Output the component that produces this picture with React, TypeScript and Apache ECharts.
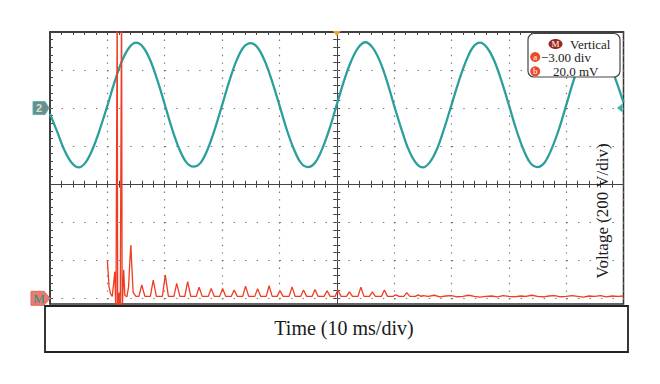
import { useEffect, useRef } from "react";
import * as echarts from "echarts";

// ---- screen scales ----
const TIME_MIN = -50; // ms
const TIME_MAX = 50; // ms
const TIME_DIV = 10; // ms per division
const DIV_MIN = -3.15; // vertical screen range, divisions
const DIV_MAX = 4;

// ---- channel 2 (line voltage), screen divisions, one sample each 1.25 ms from -50 ms ----
const ch2StartMs = -50;
const ch2StepMs = 1.25;
const ch2Div = [
  1.85, 1.38, 0.9, 0.57, 0.44, 0.58, 0.95, 1.47, 2.06, 2.68, 3.22, 3.58, 3.72, 3.6, 3.25, 2.72,
  2.1, 1.47, 0.94, 0.58, 0.46, 0.56, 0.92, 1.45, 2.07, 2.7, 3.24, 3.6, 3.71, 3.58, 3.22, 2.69,
  2.08, 1.45, 0.93, 0.56, 0.45, 0.57, 0.94, 1.46, 2.09, 2.71, 3.23, 3.59, 3.73, 3.59, 3.24, 2.71,
  2.07, 1.46, 0.92, 0.57, 0.44, 0.58, 0.93, 1.47, 2.08, 2.69, 3.22, 3.6, 3.72, 3.58, 3.23, 2.7,
  2.09, 1.46, 0.93, 0.56, 0.45, 0.57, 0.94, 1.45, 2.07, 2.7, 3.24, 3.59, 3.71, 3.6, 3.22, 2.7,
  2.15,
];

// ---- math channel M, screen divisions ----
const mathTransientMs = [
  -40.0, -39.7, -39.45, -39.15, -38.9, -38.7, -38.5, -38.28, -38.2, -37.95, -37.75, -37.52,
  -37.42, -37.15, -36.95, -36.6, -36.3, -36.05, -35.9, -35.75, -35.5, -35.0,
];
const mathTransientDiv = [
  -2.0, -2.7, -2.88, -2.95, -2.6, -2.3, -3.4, 5.0, -3.4, -2.85, -3.4, 5.0,
  -3.4, -2.25, -2.92, -2.96, -2.7, -1.95, -1.6, -2.1, -2.85, -2.95,
];
const mathPeakMs = [
  -34.0, -32.0, -29.9, -27.9, -26.0, -24.0, -21.9, -19.9, -17.9, -15.9, -13.8, -11.8, -9.9,
  -7.8, -5.8, -3.8, -1.7, 0.2, 2.2, 4.2, 6.2, 8.3, 10.3, 12.2, 14.2,
];
const mathPeakDiv = [
  -2.65, -2.52, -2.39, -2.61, -2.56, -2.71, -2.74, -2.74, -2.78, -2.68, -2.75, -2.67, -2.8,
  -2.7, -2.78, -2.77, -2.8, -2.78, -2.83, -2.71, -2.83, -2.78, -2.91, -2.85, -2.91,
];
const mathBaseDiv = -2.95;
const mathTailMs = [
  15, 16, 17, 18, 19, 20, 21, 22, 23, 24, 25, 26, 27, 28, 29, 30, 31, 32, 33, 34, 35, 36, 37,
  38, 39, 40, 41, 42, 43, 44, 45, 46, 47, 48, 49, 50,
];
const mathTailDiv = [
  -2.93, -2.95, -2.92, -2.96, -2.94, -2.93, -2.96, -2.95, -2.92, -2.95, -2.97, -2.95, -2.94,
  -2.96, -2.93, -2.95, -2.96, -2.94, -2.95, -2.92, -2.95, -2.96, -2.94, -2.93, -2.96, -2.95,
  -2.93, -2.95, -2.97, -2.94, -2.95, -2.93, -2.96, -2.94, -2.95, -2.94,
];

const gridLineDiv = [-3, -2, -1, 1, 2, 3];
const ch2OffsetDiv = 2;
const mathOffsetDiv = -3;

const legendTitle = "Vertical";
const legendA = "\u22123.00 div";
const legendB = "20.0 mV";
const xTitle = "Time (10 ms/div)";
const yTitle = "Voltage (200 V/div)";

const SERIF = '"Liberation Serif", "DejaVu Serif", serif';

export default function App() {
  const ref = useRef<HTMLDivElement>(null);

  useEffect(() => {
    if (!ref.current) return;
    const chart = echarts.init(ref.current, undefined, { renderer: "svg" });

    const yTicks: number[] = [];
    for (let k = -15; k <= 20; k++) yTicks.push(Math.round(k * 0.2 * 100) / 100);

    const ch2Data = ch2Div.map((v, i) => [ch2StartMs + i * ch2StepMs, v]);
    const mathData: number[][] = [];
    mathTransientMs.forEach((t, i) => mathData.push([t, mathTransientDiv[i]]));
    mathPeakMs.forEach((t, i) => {
      mathData.push([t - 0.5, mathBaseDiv]);
      mathData.push([t, mathPeakDiv[i]]);
      mathData.push([t + 0.55, mathBaseDiv]);
    });
    mathTailMs.forEach((t, i) => mathData.push([t, mathTailDiv[i]]));

    const tickColor = "#444";
    const baseX = {
      type: "value" as const,
      min: TIME_MIN,
      max: TIME_MAX,
      interval: TIME_DIV,
      axisLabel: { show: false },
    };
    const baseY = {
      type: "value" as const,
      min: DIV_MIN,
      max: DIV_MAX,
      axisLabel: { show: false },
      splitLine: { show: false },
    };

    chart.setOption({
      animation: false,
      backgroundColor: "#ffffff",
      grid: {
        left: 50,
        right: 36.5,
        top: 32,
        bottom: 80,
        show: true,
        borderColor: "#333",
        borderWidth: 1.5,
        backgroundColor: "transparent",
      },
      xAxis: [
        {
          ...baseX,
          position: "top",
          axisLine: { show: true, onZero: false, lineStyle: { color: "#333", width: 1.5 } },
          axisTick: { show: true, inside: true, length: 3, lineStyle: { color: tickColor } },
          minorTick: { show: true, splitNumber: 5, length: 3, lineStyle: { color: tickColor } },
          splitLine: { show: true, lineStyle: { color: "#777", width: 1.2, type: [1.4, 6.2] } },
        },
        {
          ...baseX,
          position: "bottom",
          axisLine: { show: true, onZero: true, onZeroAxisIndex: 0, lineStyle: { color: "#444", width: 1 } },
          axisTick: { show: true, inside: true, length: 3.5, lineStyle: { color: tickColor } },
          minorTick: { show: true, splitNumber: 5, length: 3.5, lineStyle: { color: tickColor } },
          splitLine: { show: false },
        },
        {
          ...baseX,
          position: "bottom",
          axisLine: { show: false, onZero: true, onZeroAxisIndex: 0 },
          axisTick: { show: true, inside: false, length: 3.5, lineStyle: { color: tickColor } },
          minorTick: { show: true, splitNumber: 5, length: 3.5, lineStyle: { color: tickColor } },
          splitLine: { show: false },
        },
      ],
      yAxis: [
        {
          ...baseY,
          position: "left",
          axisLine: { show: true, onZero: false, lineStyle: { color: "#333", width: 1.5 } },
          axisTick: { show: true, inside: true, length: 3, customValues: yTicks, lineStyle: { color: tickColor } },
        },
        {
          ...baseY,
          position: "left",
          axisLine: { show: true, onZero: true, onZeroAxisIndex: 0, lineStyle: { color: "#444", width: 1 } },
          axisTick: { show: true, inside: true, length: 3.5, customValues: yTicks, lineStyle: { color: tickColor } },
        },
        {
          ...baseY,
          position: "left",
          axisLine: { show: false, onZero: true, onZeroAxisIndex: 0 },
          axisTick: { show: true, inside: false, length: 3.5, customValues: yTicks, lineStyle: { color: tickColor } },
        },
      ],
      series: [
        {
          type: "line",
          name: "grid",
          data: [],
          z: 1,
          silent: true,
          markLine: {
            silent: true,
            symbol: ["none", "none"],
            label: { show: false },
            lineStyle: { color: "#777", width: 1.2, type: [1.4, 10.08] },
            data: gridLineDiv.map((v) => ({ yAxis: v })),
          },
        },
        {
          type: "line",
          name: "CH2",
          data: ch2Data,
          smooth: 0.35,
          showSymbol: false,
          symbol: "none",
          z: 3,
          lineStyle: { color: "#2b9f9b", width: 2.3 },
        },
        {
          type: "line",
          name: "M",
          data: mathData,
          showSymbol: false,
          symbol: "none",
          clip: true,
          z: 4,
          lineStyle: { color: "#ef3d24", width: 1.3 },
        },
      ],
    });

    const conv = (p: number[]) =>
      chart.convertToPixel({ xAxisIndex: 0, yAxisIndex: 0 }, p) as unknown as number[];
    const p2 = conv([TIME_MIN, ch2OffsetDiv]);
    const pm = conv([TIME_MIN, mathOffsetDiv]);
    const pr = conv([TIME_MAX, ch2OffsetDiv]);
    const pt = conv([0, DIV_MAX]);

    const lx = 528;
    const ly = 33.5;

    chart.setOption({
      graphic: {
        elements: [
          // channel 2 marker
          {
            type: "polygon",
            z: 100,
            shape: {
              points: [
                [p2[0] - 17, p2[1] - 6.5],
                [p2[0] - 5, p2[1] - 6.5],
                [p2[0] - 1, p2[1]],
                [p2[0] - 5, p2[1] + 6.5],
                [p2[0] - 17, p2[1] + 6.5],
              ],
            },
            style: { fill: "#6f8d88", stroke: "#4fb7b0", lineWidth: 1 },
          },
          {
            type: "text",
            z: 101,
            x: p2[0] - 11,
            y: p2[1],
            style: {
              text: "2",
              fill: "#c3e6df",
              font: 'bold 11px "Liberation Sans", sans-serif',
              align: "center",
              verticalAlign: "middle",
            },
          },
          // math marker
          {
            type: "polygon",
            z: 100,
            shape: {
              points: [
                [pm[0] - 19, pm[1] - 7],
                [pm[0] - 6, pm[1] - 7],
                [pm[0], pm[1]],
                [pm[0] - 6, pm[1] + 7],
                [pm[0] - 19, pm[1] + 7],
              ],
            },
            style: { fill: "#e87c70", stroke: "#e06a5c", lineWidth: 1 },
          },
          {
            type: "text",
            z: 101,
            x: pm[0] - 11,
            y: pm[1] + 0.5,
            style: {
              text: "M",
              fill: "#2f8f86",
              font: "13px " + SERIF,
              align: "center",
              verticalAlign: "middle",
            },
          },
          // right ch2 level marker
          {
            type: "polygon",
            z: 100,
            shape: {
              points: [
                [pr[0] - 1, pr[1] - 4.5],
                [pr[0] - 6.5, pr[1]],
                [pr[0] - 1, pr[1] + 4.5],
              ],
            },
            style: { fill: "#3db3ad" },
          },
          // trigger position marker
          {
            type: "polygon",
            z: 100,
            shape: {
              points: [
                [pt[0] - 4, pt[1] - 1],
                [pt[0] + 4, pt[1] - 1],
                [pt[0], pt[1] + 4],
              ],
            },
            style: { fill: "#f0a22c" },
          },
          // legend box
          {
            type: "rect",
            z: 100,
            shape: { x: lx, y: ly, width: 92, height: 43.5, r: 6 },
            style: { fill: "#ffffff", stroke: "#444", lineWidth: 1.2 },
          },
          {
            type: "ellipse",
            z: 101,
            shape: { cx: lx + 27.5, cy: ly + 10.5, rx: 7, ry: 5 },
            style: { fill: "#9a2a1e" },
          },
          {
            type: "text",
            z: 102,
            x: lx + 27.5,
            y: ly + 10.8,
            style: { text: "M", fill: "#ffffff", font: "9px " + SERIF, align: "center", verticalAlign: "middle" },
          },
          {
            type: "text",
            z: 101,
            x: lx + 42,
            y: ly + 10.5,
            style: { text: legendTitle, fill: "#222", font: "13px " + SERIF, align: "left", verticalAlign: "middle" },
          },
          {
            type: "circle",
            z: 101,
            shape: { cx: lx + 7.2, cy: ly + 23.5, r: 5 },
            style: { fill: "#ea4a2a" },
          },
          {
            type: "text",
            z: 102,
            x: lx + 7.2,
            y: ly + 23.2,
            style: { text: "a", fill: "#ffffff", font: "9px " + SERIF, align: "center", verticalAlign: "middle" },
          },
          {
            type: "text",
            z: 101,
            x: lx + 13,
            y: ly + 24,
            style: { text: legendA, fill: "#222", font: "13px " + SERIF, align: "left", verticalAlign: "middle" },
          },
          {
            type: "circle",
            z: 101,
            shape: { cx: lx + 7.2, cy: ly + 37.8, r: 5 },
            style: { fill: "#ea4a2a" },
          },
          {
            type: "text",
            z: 102,
            x: lx + 7.2,
            y: ly + 37.5,
            style: { text: "b", fill: "#ffffff", font: "9px " + SERIF, align: "center", verticalAlign: "middle" },
          },
          {
            type: "text",
            z: 101,
            x: lx + 25,
            y: ly + 38,
            style: { text: legendB, fill: "#222", font: "13px " + SERIF, align: "left", verticalAlign: "middle" },
          },
          // y title
          {
            type: "text",
            z: 100,
            x: 602,
            y: 211,
            rotation: Math.PI / 2,
            style: { text: yTitle, fill: "#1a1a1a", font: "17px " + SERIF, align: "center", verticalAlign: "middle" },
          },
          // time box
          {
            type: "rect",
            z: 100,
            shape: { x: 45, y: 306, width: 583, height: 46 },
            style: { fill: "#ffffff", stroke: "#222", lineWidth: 1.8 },
          },
          {
            type: "text",
            z: 101,
            x: 344,
            y: 328,
            style: { text: xTitle, fill: "#1a1a1a", font: "20px " + SERIF, align: "center", verticalAlign: "middle" },
          },
        ],
      },
    });

    return () => chart.dispose();
  }, []);

  return (
    <div
      ref={ref}
      style={{ position: "fixed", left: 0, top: 0, width: 660, height: 384, background: "#fff" }}
    />
  );
}
